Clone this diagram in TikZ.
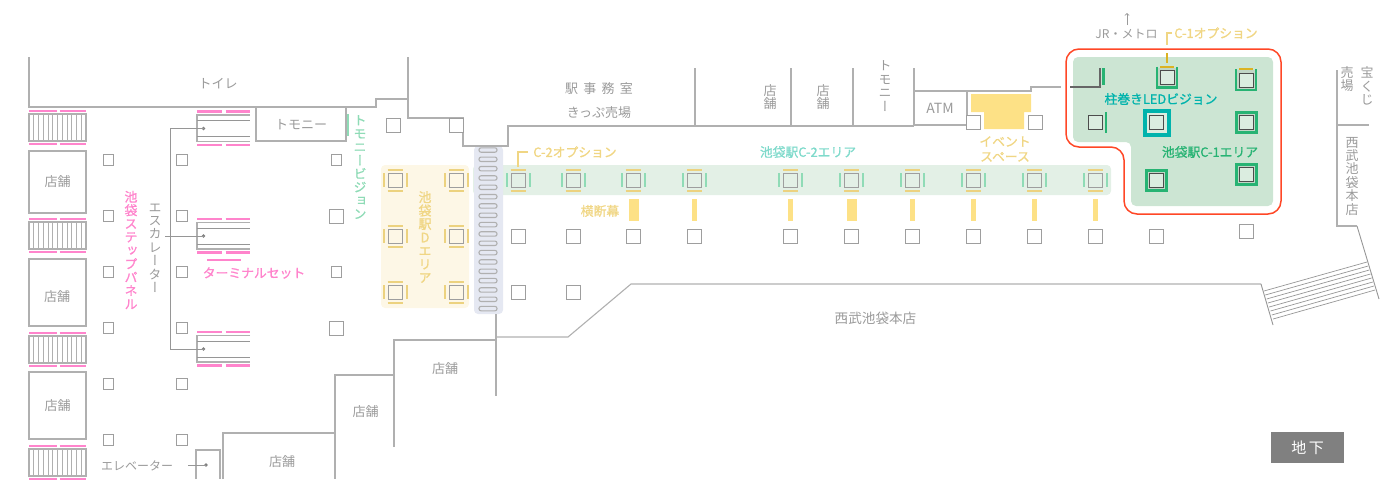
\documentclass[tikz,border=0pt]{standalone}
\usepackage{fontspec}
\setmainfont{Noto Sans CJK JP}
\newfontfamily\vfont[RawFeature={+vert}]{Noto Sans CJK JP}
\newfontfamily\medfont[FakeBold=1]{Noto Sans CJK JP}
\newfontfamily\vmedfont[RawFeature={+vert}, FakeBold=1]{Noto Sans CJK JP}
\usetikzlibrary{positioning, arrows}
\definecolor{wallgray}{HTML}{B0B0B0}
\definecolor{txtgray}{HTML}{9A9A9A}
\definecolor{pinkbar}{HTML}{FF84CC}
\definecolor{minty}{HTML}{8FDBB6}
\definecolor{bargold}{HTML}{ECD27F}
\definecolor{sun}{HTML}{FDE186}
\definecolor{goldtxt}{HTML}{F0D684}
\definecolor{teal}{HTML}{00B3AC}
\definecolor{c2teal}{HTML}{7FDACB}
\definecolor{leaf}{HTML}{27B373}
\definecolor{areagreen}{HTML}{CCE5D3}
\definecolor{bandgreen}{HTML}{E3F0E6}
\definecolor{darea}{HTML}{FDF7E6}
\definecolor{stairblue}{HTML}{E5E8F2}
\tikzset{
wall/.style={draw=wallgray, line width=1.1pt}, % floor plan lines
thin wall/.style={draw=wallgray!85!black, line width=0.9pt},
pinkline/.style={draw=pinkbar, line width=2.6pt},
txt/.style={text=txtgray, inner sep=0pt, font=\fontsize{13}{14}\selectfont},
hot/.style={inner sep=0pt, font=\medfont\fontsize{12.8}{15}\selectfont},
vtxt/.style={text=txtgray, inner sep=0pt, align=center, font=\vfont\fontsize{13}{13.4}\selectfont},
vhot/.style={inner sep=0pt, align=center, font=\vmedfont\fontsize{13}{13.4}\selectfont},
pillar/.style={draw=wallgray!90!black, line width=1pt, fill=white, minimum size=14pt, inner sep=0pt},
small pillar/.style={pillar, minimum size=10.5pt},
dark pillar/.style={draw=black!70, line width=1pt, fill=areagreen!70!white, minimum size=14pt, inner sep=0pt},
frame/.style={draw=leaf, line width=2.4pt, fill=areagreen!85!gray, minimum size=20pt, inner sep=0pt},
}
\begin{document}
\begin{tikzpicture}[x=1pt, y=-1pt]
    \useasboundingbox (0,0) rectangle (1394,479);

    % areas behind everything
    \fill[fill=darea, rounded corners=4pt] (381,165) rectangle (469,308);
    \fill[fill=bandgreen, rounded corners=4pt] (473,165) rectangle (1111,195);
    \fill[fill=stairblue, rounded corners=4pt] (474,146) rectangle (503,314);
    \fill[fill=areagreen, rounded corners=5pt] (1073,57) -- (1273,57) -- (1273,206) -- (1131,206) -- (1131,142) -- (1073,142) -- cycle;
    \draw[draw=red!70!orange!85!white, line width=1.5pt, rounded corners=13pt] (1066,49) -- (1281,49) -- (1281,214) -- (1124,214) -- (1124,147) -- (1066,147) -- cycle;

    % walls
    \draw[wall] (29,57) -- (29,107) -- (376,107) -- (376,99) -- (408,99);
    \draw[wall] (408,57) -- (408,118) -- (463,118) -- (463,146) -- (508,146) -- (508,126) -- (914,126);
    \foreach \x in {695,791,853,914} \draw[wall] (\x,68) -- (\x,126);
    \draw[wall] (914,91) -- (1031,91) -- (1031,87) -- (1061,87);
    \draw[wall] (967,91) -- (967,116);
    \draw[wall] (914,125) -- (967,125);
    \draw[wall] (256,107) -- (256,141) -- (346,141) -- (346,107);
    \draw[wall] (196,479) -- (196,450) -- (220,450) -- (220,479);
    \draw[wall] (223,479) -- (223,433) -- (335,433) -- (335,479);
    \draw[wall] (335,433) -- (335,375) -- (394,375);
    \draw[wall] (394,447) -- (394,340) -- (496,340);
    \draw[wall] (496,314) -- (496,396);
    \draw[wall] (496,337) -- (568,337) -- (631,284) -- (1261,284);
    \draw[thin wall] (1261,284) -- (1273,325);
    \draw[thin wall] (1357,226) -- (1379,299);
    \draw[wall] (1337,70) -- (1337,226) -- (1357,226);
    \draw[wall] (1337,125) -- (1369,125);
    \foreach \i in {0,...,7}
        \draw[thin wall, line width=0.7pt] (1264+1.3*\i,291+4*\i) -- (1367+1.15*\i,262+4*\i);

    % left column of escalators and shops
    \foreach \y in {114,222,336,449} {
        \draw[wall] (29,\y) rectangle (86,\y+27);
        \foreach \i in {1,...,11} \draw[wall, line width=0.9pt] (29+4.75*\i,\y) -- (29+4.75*\i,\y+27);
        \draw[pinkline] (29,\y-3) -- (56.5,\y-3);
        \draw[pinkline] (59.5,\y-3) -- (86,\y-3);
        \draw[pinkline] (29,\y+30) -- (56.5,\y+30);
        \draw[pinkline] (59.5,\y+30) -- (86,\y+30);
    }
    \node[draw=wallgray, line width=1.1pt, minimum width=57pt, minimum height=62pt, txt] (shopA) at (57.5,182) {店舗};
    \node[draw=wallgray, line width=1.1pt, minimum width=57pt, minimum height=67pt, txt] (shopB) at (57.5,292.5) {};
    \node[draw=wallgray, line width=1.1pt, minimum width=57pt, minimum height=67pt, txt] (shopC) at (57.5,405.5) {店舗};
    \node[txt] (shopB text) at (57,297) {店舗};

    % right escalators
    \foreach \y in {115,222.5,335.5} {
        \draw[wall] (250,\y) -- (197,\y) -- (197,\y+26.5) -- (250,\y+26.5);
        \draw[thin wall] (197,\y+5.5) -- (250,\y+5.5);
        \draw[thin wall] (197,\y+21.5) -- (250,\y+21.5);
        \draw[pinkline] (197,\y-3.5) -- (221.5,\y-3.5);
        \draw[pinkline] (225.5,\y-3.5) -- (250,\y-3.5);
        \draw[pinkline] (197,\y+30) -- (221.5,\y+30);
        \draw[pinkline] (225.5,\y+30) -- (250,\y+30);
        \fill[fill=gray] (203.5,\y+13.5) circle (1.8pt);
    }
    \draw[pinkline] (207,260) -- (241,260);
    \draw[thin wall] (203.5,128.5) -- (170,128.5) -- (170,349) -- (203.5,349);
    \draw[thin wall] (165,236) -- (203.5,236);
    \fill[fill=gray] (206,465) circle (1.8pt);
    \draw[thin wall] (188,465) -- (206,465);

    % pillars
    \foreach \x in {108.5,182}
        \foreach \y in {160,216,272,328,384,440}
            \node[small pillar] (p\x-\y) at (\x,\y) {};
    \node[small pillar] (pA) at (336.5,160) {};
    \node[pillar] (pB) at (336,216.5) {};
    \node[small pillar] (pC) at (336.5,272) {};
    \node[pillar] (pD) at (336,328.5) {};
    \node[pillar] (pE) at (393,125) {};
    \node[pillar] (pF) at (456,125) {};
    \fill[fill=sun] (971,94) -- (1031,94) -- (1031,112) -- (1024,112) -- (1024,129) -- (984,129) -- (984,112) -- (971,112) -- cycle;
    \node[pillar] (pG) at (973,122) {};
    \node[pillar] (pH) at (1035,122) {};

    % D area
    \foreach \x in {395,456.5}
        \foreach \y in {180,236,292} {
            \node[pillar, fill=none] (d\x-\y) at (\x,\y) {};
            \draw[draw=bargold, line width=2pt] (\x-7.5,\y-10) -- (\x+7.5,\y-10);
            \draw[draw=bargold, line width=2pt] (\x-7.5,\y+10.5) -- (\x+7.5,\y+10.5);
            \draw[draw=bargold, line width=2pt] (\x-11.5,\y-7) -- (\x-11.5,\y+7);
            \draw[draw=bargold, line width=2pt] (\x+11.5,\y-7) -- (\x+11.5,\y+7);
        }

    % station stairs
    \foreach \i in {0,...,17}
        \draw[wall, fill=stairblue, rounded corners=2pt] (479,147.8+9.33*\i) rectangle (497,152.2+9.33*\i);

    % C-2 row
    \foreach \x in {518,573,633,694.5,790.5,851.5,912.5,973.5,1034.5,1095} {
        \node[pillar, fill=none] (c\x) at (\x,180) {};
        \draw[draw=bargold, line width=2pt] (\x-7.5,169.5) -- (\x+7.5,169.5);
        \draw[draw=bargold, line width=2pt] (\x-7.5,190.5) -- (\x+7.5,190.5);
        \draw[draw=minty, line width=2pt] (\x-11.5,173) -- (\x-11.5,187);
        \draw[draw=minty, line width=2pt] (\x+11.5,173) -- (\x+11.5,187);
    }
    \foreach \x in {694.5,790.5,912.5,973.5,1034.5,1095}
        \fill[fill=sun] (\x-2.5,199) rectangle (\x+2.5,221);
    \foreach \x in {633.5,851.5}
        \fill[fill=sun] (\x-5,199) rectangle (\x+5,221);
    \foreach \x in {518,573,633,694.5,790.5,851.5,912.5,973.5,1034.5,1095,1156.5}
        \node[pillar] (r\x) at (\x,236) {};
    \node[pillar] (rX) at (1246,231) {};
    \node[pillar] (sA) at (518,292) {};
    \node[pillar] (sB) at (573,292) {};

    % C-1 area
    \draw[draw=black!60, line width=1.2pt] (1070,87) -- (1100,87) -- (1100,68);
    \draw[draw=leaf, line width=2.2pt] (1103.5,68) -- (1103.5,85);
    \node[dark pillar] (k1) at (1095.5,122) {};
    \draw[draw=leaf, line width=2.2pt] (1105.7,112) -- (1105.7,133);
    \node[draw=none, fill=teal, minimum size=28pt, inner sep=0pt] (ledframe) at (1156.5,122.5) {};
    \node[draw=none, fill=areagreen!70!white, minimum size=20pt, inner sep=0pt] (ledinner) at (1156.5,122.5) {};
    \node[dark pillar] (k2) at (1156.5,122.5) {};
    \foreach \x/\y/\n in {1246.5/122.5/a,1246.5/174.5/b,1156.5/180.5/c} {
        \node[frame] (f\n) at (\x,\y) {};
        \node[dark pillar] (k\n) at (\x,\y) {};
    }
    \foreach \x/\y/\n in {1167/77.5/d,1246/80/e} {
        \fill[fill=areagreen!85!gray] (\x-10,\y-10) rectangle (\x+10,\y+10);
        \draw[draw=leaf, line width=2.4pt] (\x-10,\y-11) -- (\x-10,\y+10) -- (\x+10,\y+10) -- (\x+10,\y-11);
        \node[dark pillar] (k\n) at (\x,\y) {};
        \draw[draw=yellow!60!orange!85!black, line width=2pt] (\x-7,\y-11) -- (\x+7,\y-11);
    }

    % leaders
    \draw[draw=goldtxt, line width=1.4pt] (528,152) -- (518,152) -- (518,167);
    \draw[draw=goldtxt, line width=1.4pt] (1172,33) -- (1167,33) -- (1167,45);
    \draw[draw=yellow!60!orange!85!black, line width=1.4pt] (1167,53) -- (1167,63);
    \coordinate (up base) at (1127,25);
    \coordinate (up tip) at (1127,13);
    \draw[draw=txtgray, line width=0.8pt, ->] (up base) -- (up tip);
    \draw[draw=minty, line width=2pt] (348,114) -- (348,136);

    % labels
    \node[txt] (toilet) at (218,84) {トイレ};
    \node[txt] (tomoA) at (301,125) {トモニー};
    \node[txt] (shopD) at (445,369) {店舗};
    \node[txt] (shopE) at (365.5,412) {店舗};
    \node[txt] (shopF) at (282,461.5) {店舗};
    \node[txt, font=\fontsize{12}{14}\selectfont] (elevator) at (137,466) {エレベーター};
    \node[txt] (office) at (599,89) {駅\hspace{5.3pt}事\hspace{5.3pt}務\hspace{5.3pt}室};
    \node[txt] (ticket) at (599,113) {きっぷ売場};
    \node[txt, font=\fontsize{14}{14}\selectfont] (atm) at (940,108) {ATM};
    \node[txt, font=\fontsize{13.6}{14}\selectfont] (seibu) at (875.5,318) {西武池袋本店};
    \node[txt, font=\fontsize{12}{14}\selectfont] (jr) at (1126.5,34) {JR・メトロ};
    \node[hot, text=pinkbar] (terminal) at (254,273) {ターミナルセット};
    \node[hot, text=goldtxt] (copt) at (575,152) {C-2オプション};
    \node[hot, text=goldtxt] (banner) at (600,211) {横断幕};
    \node[hot, text=c2teal] (c2area) at (808,152) {池袋駅C-2エリア};
    \node[hot, text=goldtxt, align=center] (event) at (1005,149) {イベント\\スペース};
    \node[hot, text=goldtxt] (bopt) at (1216,33) {C-1オプション};
    \node[hot, text=teal] (led) at (1161,99) {柱巻きLEDビジョン};
    \node[hot, text=leaf] (c1area) at (1210,152) {池袋駅C-1エリア};
    \node[vhot, text=pinkbar] (step) at (131,250) {池\\袋\\ス\\テ\\ッ\\プ\\パ\\ネ\\ル};
    \node[vtxt] (esc) at (155,248) {エ\\ス\\カ\\レ\\ー\\タ\\ー};
    \node[vhot, text=minty] (tomoB) at (360,167) {ト\\モ\\ニ\\ー\\ビ\\ジ\\ョ\\ン};
    \node[vhot, text=goldtxt] (darea) at (425,237) {池\\袋\\駅\\D\\エ\\リ\\ア};
    \node[vtxt] (shopG) at (770,97) {店\\舗};
    \node[vtxt] (shopH) at (823,97) {店\\舗};
    \node[vtxt] (tomoC) at (885,86) {ト\\モ\\ニ\\ー};
    \node[vtxt] (lotA) at (1367,86) {宝\\く\\じ};
    \node[vtxt] (lotB) at (1347,79) {売\\場};
    \node[vtxt] (seibuB) at (1352,176) {西\\武\\池\\袋\\本\\店};
    \node[fill=black!50, text=white, inner sep=0pt, minimum width=73pt, minimum height=31pt, font=\fontsize{15}{16}\selectfont] (floor) at (1307.5,447.5) {地\,下};
\end{tikzpicture}
\end{document}
